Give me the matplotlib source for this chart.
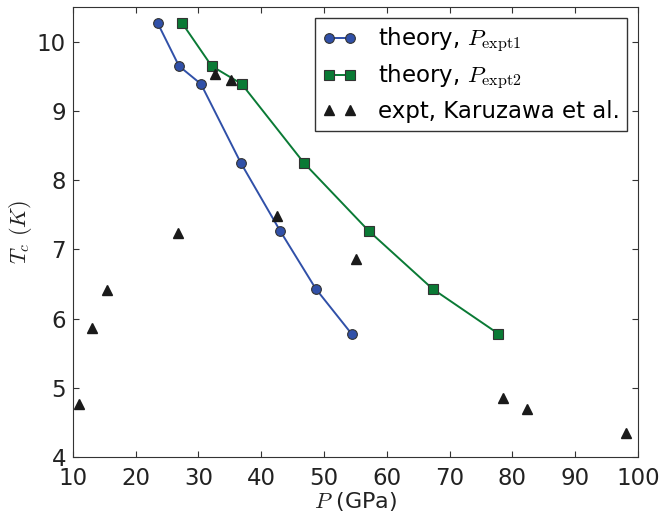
import matplotlib
matplotlib.use("Agg")
import matplotlib.pyplot as plt

plt.rcParams['mathtext.fontset'] = 'cm'
plt.rcParams['font.family'] = ['DejaVu Sans']

p_theory1 = [23.5, 26.9, 30.4, 36.75, 43.0, 48.7, 54.4]
p_theory2 = [27.4, 32.1, 36.9, 46.8, 57.1, 67.3, 77.8]
tc_theory = [10.27, 9.65, 9.39, 8.25, 7.27, 6.43, 5.78]

p_expt = [10.96, 13.0, 15.4, 26.7, 32.6, 35.2, 42.5, 55.1, 78.5, 82.3, 98.1]
tc_expt = [4.77, 5.87, 6.42, 7.23, 9.53, 9.45, 7.49, 6.86, 4.85, 4.70, 4.34]

xticks = [10, 20, 30, 40, 50, 60, 70, 80, 90, 100]
yticks = [4, 5, 6, 7, 8, 9, 10]

fig = plt.figure(figsize=(6.63, 5.15), dpi=100)
ax = fig.add_axes([0.110, 0.1126, 0.852, 0.8734])

ax.plot(p_theory1, tc_theory, '-o', color='#3050a8', mfc='#3050a8', mec='#333333',
        mew=0.8, ms=7, lw=1.4, label=r'theory, $P_{\mathrm{expt1}}$')
ax.plot(p_theory2, tc_theory, '-s', color='#0a7a35', mfc='#0a7a35', mec='#333333',
        mew=0.8, ms=6.5, lw=1.4, label=r'theory, $P_{\mathrm{expt2}}$')
ax.plot(p_expt, tc_expt, '^', color='#1a1a1a', ms=6.5, lw=0,
        label='expt, Karuzawa et al.')

ax.set_xlim(10, 100)
ax.set_ylim(4, 10.5)
ax.set_xticks(xticks)
ax.set_yticks(yticks)
for s in ax.spines.values():
    s.set_color('#333333')
ax.tick_params(direction='in', top=True, right=True, labelsize=16.5, length=4,
               colors='#333333', labelcolor='#222222')
ax.tick_params(axis='x', pad=7)
ax.tick_params(axis='y', pad=5)
ax.set_xlabel(r'$P$ (GPa)', fontsize=16, labelpad=0, color='#222222')
ax.set_ylabel(r'$T_c$ $(K)$', fontsize=16, labelpad=2, color='#222222')

leg = ax.legend(loc='upper right', numpoints=2, fontsize=16.5, fancybox=False,
                edgecolor='#333333', framealpha=1, borderaxespad=0.45,
                handlelength=1.5, handletextpad=0.9, labelspacing=0.35,
                borderpad=0.35)
leg.get_frame().set_linewidth(1.0)

fig.savefig('out.png', dpi=100)
